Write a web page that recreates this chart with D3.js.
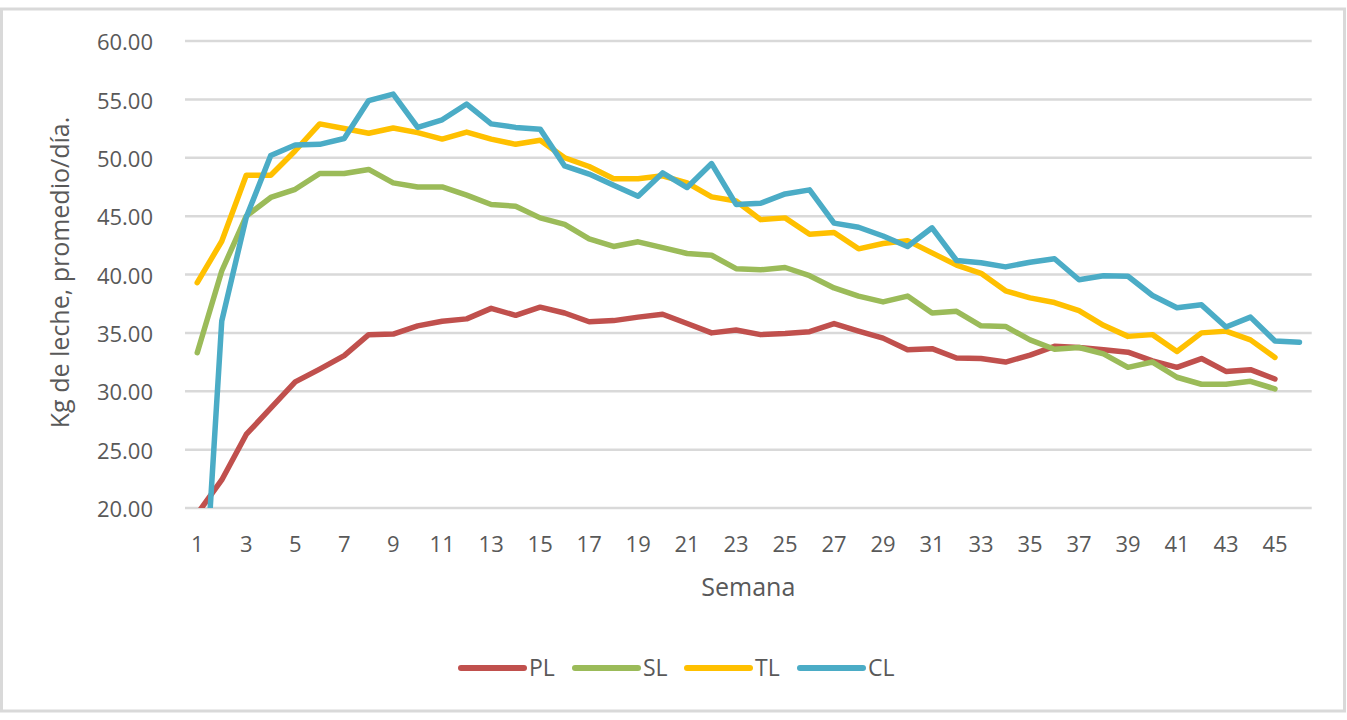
<!DOCTYPE html>
<html>
<head>
<meta charset="utf-8">
<script src="https://cdn.jsdelivr.net/npm/d3@7/dist/d3.min.js"></script>
<style>
  html, body { margin: 0; padding: 0; background: #ffffff; }
  svg { display: block; }
  text { font-family: "Open Sans", "Noto Sans", sans-serif; fill: #595959; }
</style>
</head>
<body>
<svg id="chart" width="1347" height="720"></svg>
<script>
const categories = [1,2,3,4,5,6,7,8,9,10,11,12,13,14,15,16,17,18,19,20,21,22,23,24,25,26,27,28,29,30,31,32,33,34,35,36,37,38,39,40,41,42,43,44,45,46];
const xTickLabels = [1,3,5,7,9,11,13,15,17,19,21,23,25,27,29,31,33,35,37,39,41,43,45];
const yTicks = [20,25,30,35,40,45,50,55,60];

const PL = [19.5,22.4,26.3,28.55,30.8,31.9,33.05,34.85,34.9,35.6,36.0,36.2,37.1,36.5,37.2,36.7,35.95,36.05,36.35,36.6,35.8,35.0,35.25,34.85,34.95,35.1,35.8,35.15,34.55,33.55,33.65,32.85,32.8,32.5,33.1,33.85,33.75,33.55,33.35,32.6,32.05,32.8,31.7,31.85,31.05];
const SL = [33.3,40.3,45.0,46.6,47.3,48.65,48.65,49.0,47.85,47.5,47.5,46.8,46.0,45.85,44.85,44.3,43.05,42.4,42.8,42.3,41.8,41.65,40.5,40.4,40.6,39.9,38.85,38.15,37.65,38.15,36.7,36.85,35.6,35.55,34.4,33.6,33.75,33.2,32.05,32.5,31.2,30.6,30.6,30.85,30.2];
const TL = [39.3,42.85,48.5,48.5,50.6,52.9,52.5,52.1,52.55,52.15,51.6,52.2,51.6,51.15,51.5,50.0,49.25,48.2,48.2,48.45,47.85,46.65,46.3,44.7,44.85,43.45,43.6,42.2,42.65,42.9,41.85,40.8,40.1,38.6,38.0,37.6,36.9,35.65,34.7,34.85,33.4,35.0,35.15,34.4,32.9];
const CL = [2.0,36.0,44.9,50.2,51.1,51.15,51.65,54.9,55.45,52.6,53.25,54.6,52.9,52.6,52.45,49.3,48.6,47.65,46.7,48.7,47.45,49.5,46.0,46.1,46.9,47.25,44.4,44.05,43.3,42.4,44.0,41.2,41.0,40.65,41.05,41.35,39.55,39.9,39.85,38.2,37.15,37.4,35.5,36.35,34.3,34.2];

const seriesNames = ["PL","SL","TL","CL"];
const seriesValues = [PL, SL, TL, CL];
const seriesColors = ["#C0504D","#9BBB59","#FFC000","#4BACC6"];

const svg = d3.select("#chart");

// outer border
svg.append("rect")
  .attr("x", 1.5).attr("y", 9)
  .attr("width", 1343).attr("height", 702)
  .attr("fill", "#ffffff")
  .attr("stroke", "#D9D9D9").attr("stroke-width", 3);

const plot = { left: 185, right: 1311.7, top: 41, bottom: 508 };

const x = d3.scaleBand().domain(categories).range([plot.left, plot.right]);
const y = d3.scaleLinear().domain([20, 60]).range([plot.bottom, plot.top]);
const cx = c => x(c) + x.bandwidth() / 2;

// gridlines
const grid = svg.append("g");
grid.selectAll("line").data(yTicks).join("line")
  .attr("x1", plot.left).attr("x2", plot.right)
  .attr("y1", d => y(d)).attr("y2", d => y(d))
  .attr("stroke", "#D9D9D9").attr("stroke-width", 2.5);

// y axis labels via d3 axis
const yAxis = d3.axisLeft(y).tickValues(yTicks).tickFormat(d3.format(".2f")).tickSize(0).tickPadding(0);
const yg = svg.append("g").attr("transform", `translate(153,0)`).call(yAxis);
yg.select(".domain").remove();
yg.selectAll("text")
  .attr("font-family", '"Open Sans", sans-serif')
  .attr("font-size", 22)
  .attr("fill", "#595959")
  .attr("dy", "0.62em")
  .attr("y", -5);

// x axis labels via d3 axis
const xAxis = d3.axisBottom(x).tickValues(xTickLabels).tickSize(0).tickPadding(0);
const xg = svg.append("g").attr("transform", `translate(0,${plot.bottom})`).call(xAxis);
xg.select(".domain").remove();
xg.selectAll("text")
  .attr("font-family", '"Open Sans", sans-serif')
  .attr("font-size", 22)
  .attr("fill", "#595959")
  .attr("dy", null)
  .attr("y", 44);

// clip
svg.append("defs").append("clipPath").attr("id", "plotclip")
  .append("rect")
  .attr("x", plot.left).attr("y", plot.top - 10)
  .attr("width", plot.right - plot.left + 10)
  .attr("height", plot.bottom - plot.top + 10);

const line = d3.line()
  .x((d, i) => cx(categories[i]))
  .y(d => y(d));

const lines = svg.append("g").attr("clip-path", "url(#plotclip)");
seriesValues.forEach((vals, k) => {
  lines.append("path")
    .datum(vals)
    .attr("d", line)
    .attr("fill", "none")
    .attr("stroke", seriesColors[k])
    .attr("stroke-width", 5.5)
    .attr("stroke-linejoin", "round")
    .attr("stroke-linecap", "round");
});

// axis titles
svg.append("text")
  .attr("x", (plot.left + plot.right) / 2)
  .attr("y", 596)
  .attr("text-anchor", "middle")
  .attr("font-size", 25)
  .text("Semana");

svg.append("text")
  .attr("transform", `translate(69, ${(105 + 440) / 2}) rotate(-90)`)
  .attr("text-anchor", "middle")
  .attr("font-size", 25)
  .text("Kg de leche, promedio/día.");

// legend
const legendX = [461, 575, 687, 800];
const lg = svg.append("g");
seriesNames.forEach((name, k) => {
  lg.append("line")
    .attr("x1", legendX[k]).attr("x2", legendX[k] + 63)
    .attr("y1", 668).attr("y2", 668)
    .attr("stroke", seriesColors[k])
    .attr("stroke-width", 6)
    .attr("stroke-linecap", "round");
  lg.append("text")
    .attr("x", legendX[k] + 68)
    .attr("y", 676)
    .attr("font-size", 23)
    .text(name);
});
</script>
</body>
</html>
